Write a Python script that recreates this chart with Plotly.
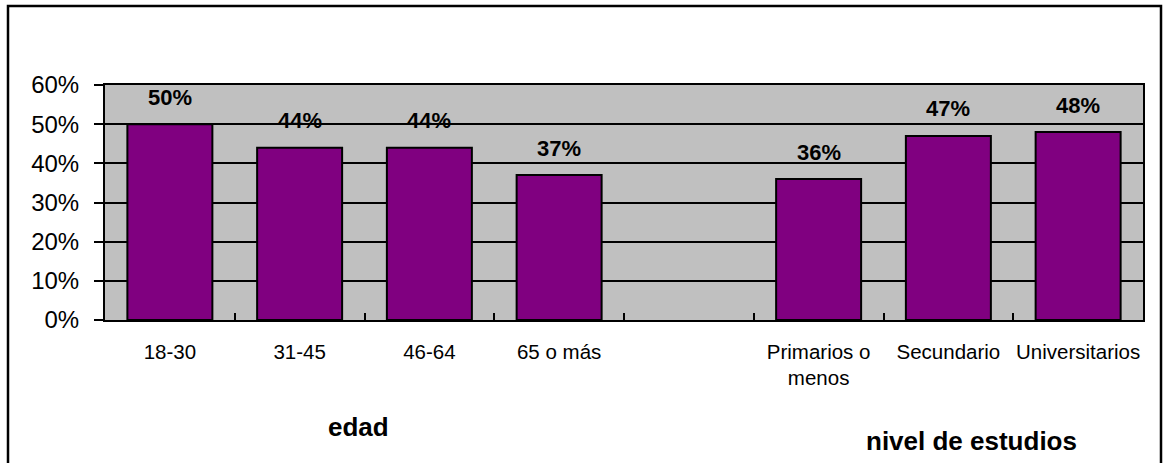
import plotly.graph_objects as go

categories = ["18-30", "31-45", "46-64", "65 o más", " ", "Primarios o<br>menos", "Secundario", "Universitarios"]
values = [0.50, 0.44, 0.44, 0.37, None, 0.36, 0.47, 0.48]
value_labels = ["50%", "44%", "44%", "37%", "", "36%", "47%", "48%"]
group_titles = ["edad", "nivel de estudios"]
y_ticks = [0, 0.1, 0.2, 0.3, 0.4, 0.5, 0.6]

FONT = "Arial, Liberation Sans, sans-serif"
W, H = 1164, 463
L, R, T, B = 105, 21, 85, 143
pw, ph = W - L - R, H - T - B

fig = go.Figure()
fig.add_trace(go.Bar(
    x=categories, y=values,
    marker=dict(color="#800080", line=dict(color="black", width=2)),
    hoverinfo="skip", showlegend=False,
))

for c, v, lab in zip(categories, values, value_labels):
    if v is None:
        continue
    fig.add_annotation(x=c, y=v, text=f"<b>{lab}</b>", showarrow=False,
                       xref="x", yref="y", yanchor="middle", yshift=27,
                       font=dict(family=FONT, size=22, color="black"))

def px_to_paper_x(px):
    return (px - L) / pw

def px_to_paper_y(py):
    return (H - B - py) / ph

fig.add_annotation(x=px_to_paper_x(358), y=px_to_paper_y(427), xref="paper", yref="paper",
                   text=f"<b>{group_titles[0]}</b>", showarrow=False,
                   xanchor="center", yanchor="middle",
                   font=dict(family=FONT, size=26, color="black"))
fig.add_annotation(x=px_to_paper_x(971), y=px_to_paper_y(441), xref="paper", yref="paper",
                   text=f"<b>{group_titles[1]}</b>", showarrow=False,
                   xanchor="center", yanchor="middle",
                   font=dict(family=FONT, size=26, color="black"))

# outer chart border
fig.add_shape(type="rect", xref="paper", yref="paper",
              x0=px_to_paper_x(8), x1=px_to_paper_x(1161),
              y0=px_to_paper_y(490), y1=px_to_paper_y(6),
              line=dict(color="black", width=2.5), fillcolor="rgba(0,0,0,0)", layer="above")

fig.update_layout(
    width=W, height=H,
    margin=dict(l=L, r=R, t=T, b=B, autoexpand=False),
    paper_bgcolor="white", plot_bgcolor="#C0C0C0",
    bargap=0.345,
    font=dict(family=FONT, color="black"),
    xaxis=dict(
        type="category", categoryorder="array", categoryarray=categories,
        showline=True, linecolor="black", linewidth=2, mirror=True,
        ticks="inside", tickson="boundaries", ticklen=7, tickwidth=2, tickcolor="black",
        tickfont=dict(family=FONT, size=20.5, color="black"),
        tickangle=0, ticklabelstandoff=12,
        showgrid=False, zeroline=False, fixedrange=True,
    ),
    yaxis=dict(
        range=[0, 0.6], tickvals=y_ticks, tickformat=".0%",
        showline=True, linecolor="black", linewidth=2, mirror=True,
        ticks="outside", ticklen=9, tickwidth=2, tickcolor="black",
        tickfont=dict(family=FONT, size=24, color="black"),
        ticklabelstandoff=10,
        showgrid=True, gridcolor="black", gridwidth=2,
        zeroline=False, fixedrange=True,
    ),
)

fig.write_html("out.html", config={"displayModeBar": False},
               post_script="document.body.style.margin='0';document.body.style.overflow='hidden';")
